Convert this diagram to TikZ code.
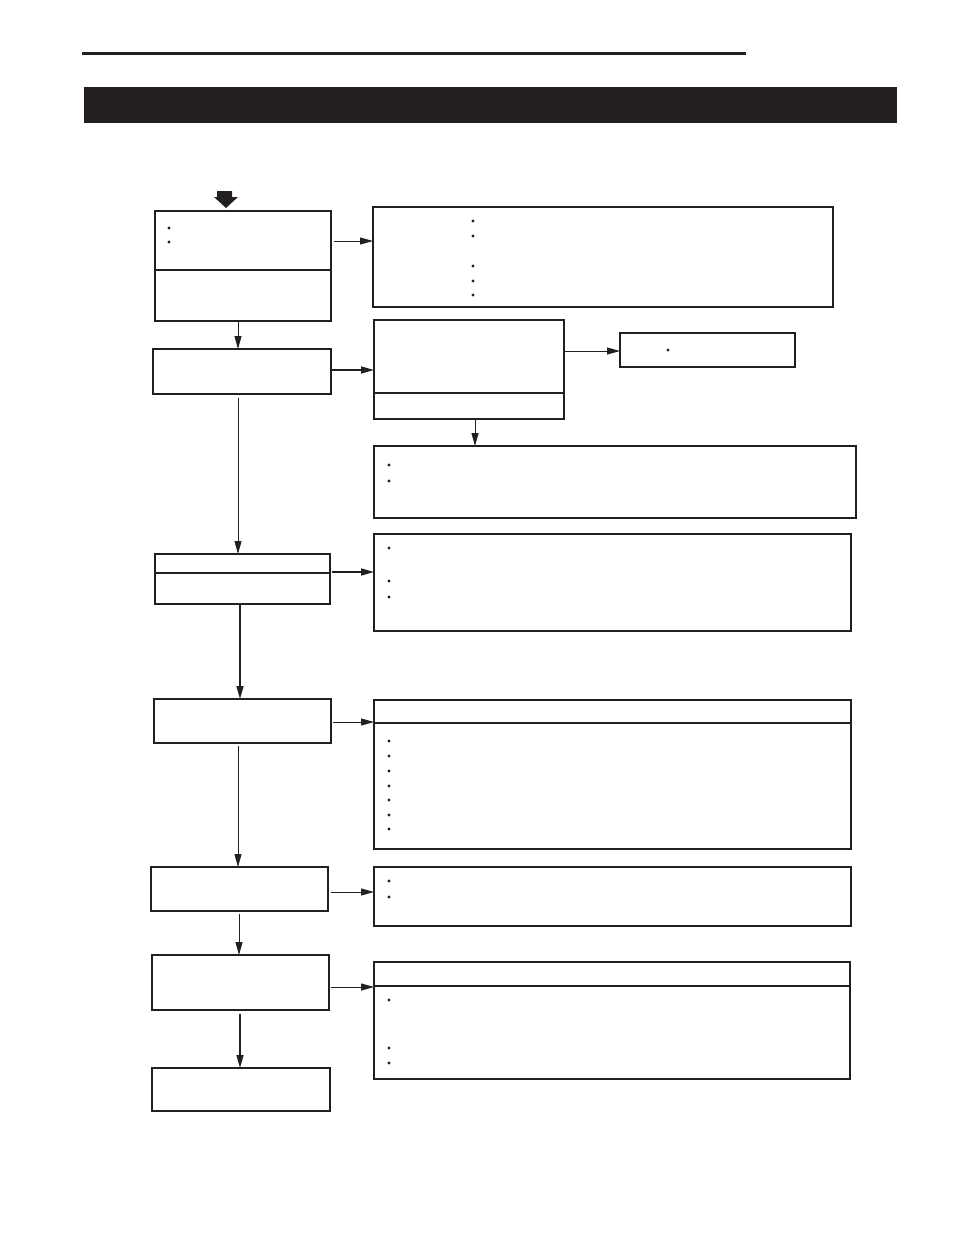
\documentclass[tikz,border=0pt]{standalone}
\usepackage{tikz}
\usetikzlibrary{arrows.meta}

\begin{document}
\begin{tikzpicture}[x=1pt,y=-1pt]

% Colori
\definecolor{ink}{HTML}{231F20}

\tikzset{
  box/.style={draw=ink, line width=1.6pt, inner sep=0pt, outer sep=0pt},
  arr/.style={draw=ink, line width=0.9pt, -{Triangle[length=13pt,width=7pt]}},
  arrthick/.style={arr, line width=1.6pt}
}

% Raggio dei punti elenco
\def\rb{1.6pt}

\useasboundingbox (0,0) rectangle (954,1235);

% Intestazione
\draw[ink, line width=3pt] (82,53) -- (746,53);
\fill[ink] (84,87) rectangle (897,123);

% Colonna sinistra
\node[box, minimum width=176pt, minimum height=110pt] (a1) at (243,266) {};
\node[box, minimum width=178pt, minimum height=45pt] (a2) at (242,371.5) {};
\node[box, minimum width=175pt, minimum height=50pt] (a3) at (242.5,579) {};
\node[box, minimum width=177pt, minimum height=44pt] (a4) at (242.5,721) {};
\node[box, minimum width=177pt, minimum height=44pt] (a5) at (239.5,889) {};
\node[box, minimum width=177pt, minimum height=55pt] (a6) at (240.5,982.5) {};
\node[box, minimum width=178pt, minimum height=43pt] (a7) at (241,1089.5) {};

% Colonna destra
\node[box, minimum width=460pt, minimum height=100pt] (b1) at (603,257) {};
\node[box, minimum width=190pt, minimum height=99pt] (b2) at (469,369.5) {};
\node[box, minimum width=175pt, minimum height=34pt] (c1) at (707.5,350) {};
\node[box, minimum width=482pt, minimum height=72pt] (b3) at (615,482) {};
\node[box, minimum width=477pt, minimum height=97pt] (b4) at (612.5,582.5) {};
\node[box, minimum width=477pt, minimum height=149pt] (b5) at (612.5,774.5) {};
\node[box, minimum width=477pt, minimum height=59pt] (b6) at (612.5,896.5) {};
\node[box, minimum width=476pt, minimum height=117pt] (b7) at (612,1020.5) {};

% Linee di divisione
\draw[box] (a1.west |- 0,270) -- (a1.east |- 0,270);
\draw[box] (b2.west |- 0,393) -- (b2.east |- 0,393);
\draw[box] (a3.west |- 0,573) -- (a3.east |- 0,573);
\draw[box] (b5.west |- 0,723) -- (b5.east |- 0,723);
\draw[box] (b7.west |- 0,986) -- (b7.east |- 0,986);

% Freccia d'ingresso
\fill[ink] (217,191) -- (232,191) -- (232,197) -- (238,197) -- (226,208)
  -- (214,197) -- (217,197) -- cycle;

% Punti elenco
\foreach \y in {228,242} \fill[ink] (169,\y) circle (\rb);
\foreach \y in {221,236,266,281,295} \fill[ink] (473,\y) circle (\rb);
\fill[ink] (668,350) circle (\rb);
\foreach \y in {465,481} \fill[ink] (389,\y) circle (\rb);
\foreach \y in {548,581,597} \fill[ink] (389,\y) circle (\rb);
\foreach \y in {741,756,771,786,800,815,829} \fill[ink] (389,\y) circle (\rb);
\foreach \y in {881,897} \fill[ink] (389,\y) circle (\rb);
\foreach \y in {1000,1048,1063} \fill[ink] (389,\y) circle (\rb);

% Frecce verso destra
\draw[arr, shorten <=3pt] (a1.east |- 0,241) -- (b1.west |- 0,241);
\draw[arrthick] (a2.east |- 0,370) -- (b2.west |- 0,370);
\draw[arr] (b2.east |- 0,351) -- (c1.west |- 0,351);
\draw[arrthick, shorten <=2pt] (a3.east |- 0,572) -- (b4.west |- 0,572);
\draw[arr, shorten <=2pt] (a4.east |- 0,722) -- (b5.west |- 0,722);
\draw[arr, shorten <=3pt] (a5.east |- 0,892) -- (b6.west |- 0,892);
\draw[arr, shorten <=2pt] (a6.east |- 0,987) -- (b7.west |- 0,987);

% Frecce verso il basso
\draw[arr] (a1.south -| 238,0) -- (a2.north -| 238,0);
\draw[arr] (b2.south -| 475,0) -- (b3.north -| 475,0);
\draw[arr, shorten <=4pt] (a2.south -| 238,0) -- (a3.north -| 238,0);
\draw[arrthick] (a3.south -| 240,0) -- (a4.north -| 240,0);
\draw[arr, shorten <=3pt] (a4.south -| 238,0) -- (a5.north -| 238,0);
\draw[arr, shorten <=3pt] (a5.south -| 239,0) -- (a6.north -| 239,0);
\draw[arrthick, shorten <=4pt] (a6.south -| 240,0) -- (a7.north -| 240,0);
\end{tikzpicture}
\end{document}
